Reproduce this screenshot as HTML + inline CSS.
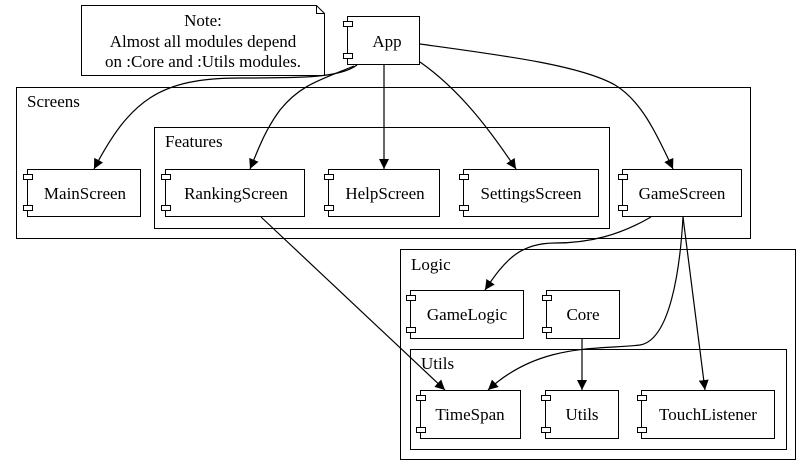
<!DOCTYPE html>
<html><head><meta charset="utf-8"><style>
html,body{margin:0;padding:0;background:#fff;}
svg{display:block;}
svg text{font-family:"Liberation Serif","Times New Roman",Times,serif !important;font-size:17px;fill:#000;}
</style></head><body>
<svg width="812" height="476" viewBox="0 0 812 476" xmlns="http://www.w3.org/2000/svg" font-family="'Liberation Serif', serif" font-size="17">
<defs>
<marker id="ar" markerWidth="10" markerHeight="10" refX="10" refY="5" orient="auto" markerUnits="userSpaceOnUse">
<path d="M0,0 L10,5 L0,10 z" fill="#000"/>
</marker>
<g id="stub"><rect x="0" y="0" width="9" height="5" fill="#fff" stroke="#000" stroke-width="1"/></g>
</defs>
<g fill="none" stroke="#000" stroke-width="1">
<rect x="16.5" y="87.5" width="734" height="151"/>
<rect x="154.5" y="127.5" width="455" height="101"/>
<rect x="400.5" y="249.5" width="395" height="210"/>
<rect x="410.5" y="349.5" width="376" height="100"/>
<path d="M81.5,5.5 H316.5 L324.5,13.5 V75.5 H81.5 Z"/>
<path d="M316.5,5.5 V13.5 H324.5"/>
</g>
<g font-family="'Liberation Serif', serif">
<text x="27" y="107">Screens</text>
<text x="165" y="147">Features</text>
<text x="411" y="270">Logic</text>
<text x="421" y="369">Utils</text>
<text x="203" y="26" text-anchor="middle">Note:</text>
<text x="203" y="47" text-anchor="middle">Almost all modules depend</text>
<text x="203" y="67" text-anchor="middle">on :Core and :Utils modules.</text>
</g>
<g fill="#fff" stroke="#000" stroke-width="1">
<rect x="347.5" y="16.5" width="72" height="48"/>
<rect x="27.5" y="169.5" width="113" height="47"/>
<rect x="165.5" y="169.5" width="139" height="47"/>
<rect x="328.5" y="169.5" width="111" height="47"/>
<rect x="463.5" y="169.5" width="135" height="47"/>
<rect x="622.5" y="169.5" width="119" height="47"/>
<rect x="410.5" y="290.5" width="113" height="48"/>
<rect x="546.5" y="290.5" width="73" height="48"/>
<rect x="420.5" y="390.5" width="100" height="48"/>
<rect x="545.5" y="390.5" width="73" height="48"/>
<rect x="641.5" y="390.5" width="133" height="48"/>
</g>
<g>
<use href="#stub" x="343.5" y="21.5"/><use href="#stub" x="343.5" y="53.5"/>
<use href="#stub" x="23.5" y="174.5"/><use href="#stub" x="23.5" y="205.5"/>
<use href="#stub" x="161.5" y="174.5"/><use href="#stub" x="161.5" y="205.5"/>
<use href="#stub" x="324.5" y="174.5"/><use href="#stub" x="324.5" y="205.5"/>
<use href="#stub" x="459.5" y="174.5"/><use href="#stub" x="459.5" y="205.5"/>
<use href="#stub" x="618.5" y="174.5"/><use href="#stub" x="618.5" y="205.5"/>
<use href="#stub" x="406.5" y="295.5"/><use href="#stub" x="406.5" y="327.5"/>
<use href="#stub" x="542.5" y="295.5"/><use href="#stub" x="542.5" y="327.5"/>
<use href="#stub" x="416.5" y="395.5"/><use href="#stub" x="416.5" y="427.5"/>
<use href="#stub" x="541.5" y="395.5"/><use href="#stub" x="541.5" y="427.5"/>
<use href="#stub" x="637.5" y="395.5"/><use href="#stub" x="637.5" y="427.5"/>
</g>
<g font-family="'Liberation Serif', serif">
<text x="387" y="47" text-anchor="middle">App</text>
<text x="85" y="199" text-anchor="middle">MainScreen</text>
<text x="236" y="199" text-anchor="middle">RankingScreen</text>
<text x="385" y="199" text-anchor="middle">HelpScreen</text>
<text x="531" y="199" text-anchor="middle">SettingsScreen</text>
<text x="682" y="199" text-anchor="middle">GameScreen</text>
<text x="467" y="320" text-anchor="middle">GameLogic</text>
<text x="583" y="320" text-anchor="middle">Core</text>
<text x="470" y="420" text-anchor="middle">TimeSpan</text>
<text x="582" y="420" text-anchor="middle">Utils</text>
<text x="708" y="420" text-anchor="middle">TouchListener</text>
</g>
<g fill="none" stroke="#000" stroke-width="1.2" marker-end="url(#ar)">
<path d="M357,65 C340,78 300,78 240,78 C160,78 130,100 94,169"/>
<path d="M354,66 C320,80 300,85 280,110 C265,130 258,150 250,169"/>
<path d="M384,65 V169"/>
<path d="M420,62 C460,90 490,130 516,169"/>
<path d="M420,44 C500,55 580,65 615,85 C640,100 655,130 673,169"/>
<path d="M261,217 L445,390"/>
<path d="M651,217 C620,235 590,243 555,243 C520,243 505,260 485,290"/>
<path d="M683,217 C680,270 670,340 640,345 C600,350 540,342 488,390"/>
<path d="M683,217 L705,390"/>
<path d="M582,339 V390"/>
</g>
</svg>
</body></html>
